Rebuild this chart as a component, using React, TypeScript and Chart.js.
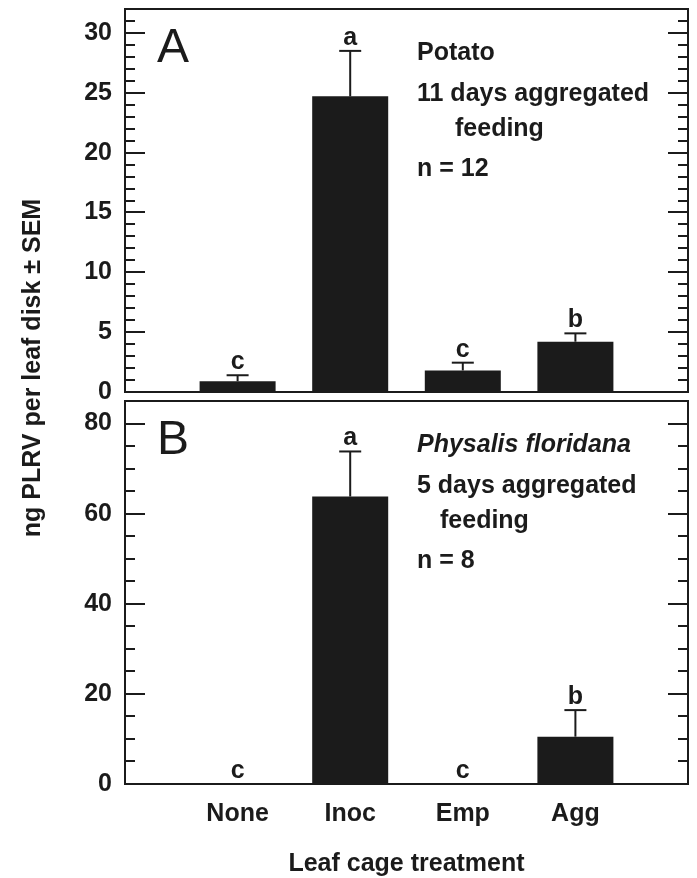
import React, { useEffect, useRef } from 'react';
import { Chart, registerables } from 'chart.js';

Chart.register(...registerables);

const CATEGORIES = ['None', 'Inoc', 'Emp', 'Agg'];

const VALUES_A = [0.9, 24.7, 1.8, 4.2];
const ERRORS_A = [0.5, 3.8, 0.65, 0.7];
const LETTERS_A = ['c', 'a', 'c', 'b'];
const TICKS_A = [0, 5, 10, 15, 20, 25, 30];
const Y_MAX_A = 32;
const MINOR_STEP_A = 1;
const NOTES_A = ['Potato', '11 days aggregated', 'feeding', 'n = 12'];

const VALUES_B = [0, 63.8, 0, 10.5];
const ERRORS_B = [0, 10, 0, 5.9];
const LETTERS_B = ['c', 'a', 'c', 'b'];
const TICKS_B = [0, 20, 40, 60, 80];
const Y_MAX_B = 85;
const MINOR_STEP_B = 5;
const NOTES_B = ['Physalis floridana', '5 days aggregated', 'feeding', 'n = 8'];

const Y_TITLE = 'ng PLRV per leaf disk \u00B1 SEM';
const X_TITLE = 'Leaf cage treatment';

const W = 697;
const H = 878;
const INK = '#1b1b1b';
const FONT = '"Liberation Sans", Arial, Helvetica, sans-serif';
const WEIGHT = 'bold';
const SIZE = 25;

type PanelCfg = {
  key: string;
  panelLetter: string;
  values: number[];
  errors: number[];
  letters: string[];
  ticks: number[];
  yMax: number;
  minor: number;
  notes: string[];
  italicFirst: boolean;
  feedingIndent: number;
  top: number;
  bottom: number;
  showX: boolean;
  drawYTitle: boolean;
};

function makePlugin(cfg: PanelCfg) {
  return {
    id: 'panelDeco' + cfg.key,
    afterDatasetsDraw(chart: any) {
      const ctx = chart.ctx as CanvasRenderingContext2D;
      const { left, right, top, bottom } = chart.chartArea;
      const xs = chart.scales.x;
      const ys = chart.scales.y;
      ctx.save();
      ctx.strokeStyle = INK;
      ctx.fillStyle = INK;
      const line = (x1: number, y1: number, x2: number, y2: number) => {
        ctx.beginPath();
        ctx.moveTo(x1, y1);
        ctx.lineTo(x2, y2);
        ctx.stroke();
      };
      // frame
      ctx.lineWidth = 2;
      ctx.strokeRect(left, top, right - left, bottom - top);
      // inward ticks (major + minor) on both sides
      for (let v = 0; v <= ys.max + 1e-9; v += cfg.minor) {
        const py = Math.round(ys.getPixelForValue(v));
        const major = cfg.ticks.some((t) => Math.abs(t - v) < 1e-9);
        const len = major ? 20 : 10;
        line(left, py, left + len, py);
        line(right, py, right - len, py);
      }
      // error bars + letters
      ctx.font = `${WEIGHT} ${SIZE}px ${FONT}`;
      ctx.textAlign = 'center';
      ctx.textBaseline = 'alphabetic';
      cfg.values.forEach((v, i) => {
        const cx = xs.getPixelForValue(i + 1);
        const yv = ys.getPixelForValue(v);
        const yTop = ys.getPixelForValue(v + cfg.errors[i]);
        if (cfg.errors[i] > 0) {
          line(cx, yv, cx, yTop);
          line(cx - 11, yTop, cx + 11, yTop);
        }
        ctx.fillText(cfg.letters[i], cx, yTop - 6);
      });
      // panel letter
      ctx.textAlign = 'left';
      ctx.font = `48px ${FONT}`;
      ctx.fillText(cfg.panelLetter, left + 32, top + 53);
      // notes
      const nx = left + 292;
      const baselines = [51, 92, 127, 167];
      cfg.notes.forEach((t, i) => {
        const italic = cfg.italicFirst && i === 0;
        ctx.font = `${italic ? 'italic ' : ''}${WEIGHT} ${SIZE}px ${FONT}`;
        const x = i === 2 ? nx + cfg.feedingIndent : nx;
        ctx.fillText(t, x, top + baselines[i]);
      });
      // shared y-axis title
      if (cfg.drawYTitle) {
        ctx.save();
        ctx.translate(33, 368);
        ctx.rotate(-Math.PI / 2);
        ctx.textAlign = 'center';
        ctx.textBaseline = 'middle';
        ctx.font = `${WEIGHT} ${SIZE}px ${FONT}`;
        ctx.fillText(Y_TITLE, 0, 0);
        ctx.restore();
      }
      ctx.restore();
    },
  };
}

function buildChart(canvas: HTMLCanvasElement, cfg: PanelCfg) {
  return new Chart(canvas, {
    type: 'bar',
    data: {
      datasets: [
        {
          data: cfg.values.map((v, i) => ({ x: i + 1, y: v })),
          backgroundColor: INK,
          borderWidth: 0,
          barPercentage: 0.675,
          categoryPercentage: 1,
        },
      ],
    },
    options: {
      animation: false,
      responsive: false,
      events: [],
      layout: {
        padding: { left: 0, right: W - 688, top: cfg.top, bottom: 0 },
      },
      plugins: {
        legend: { display: false },
        tooltip: { enabled: false },
        title: { display: false },
      },
      scales: {
        x: {
          type: 'linear',
          min: 0,
          max: 5,
          offset: false,
          grid: { display: false, drawTicks: false },
          border: { display: false },
          afterBuildTicks: (scale: any) => {
            scale.ticks = CATEGORIES.map((_, i) => ({ value: i + 1 }));
          },
          afterFit: (scale: any) => {
            scale.height = H - cfg.bottom;
            scale.paddingLeft = 0;
            scale.paddingRight = 0;
          },
          ticks: {
            display: cfg.showX,
            autoSkip: false,
            maxRotation: 0,
            padding: 15,
            color: INK,
            font: { family: FONT, size: SIZE, weight: WEIGHT },
            callback: (value: any) => CATEGORIES[Number(value) - 1] ?? '',
          },
          title: {
            display: cfg.showX,
            text: X_TITLE,
            color: INK,
            font: { family: FONT, size: SIZE, weight: WEIGHT, lineHeight: 1 },
            padding: { top: 0, bottom: 1 },
          },
        },
        y: {
          type: 'linear',
          min: 0,
          max: cfg.yMax,
          grid: { display: false, drawTicks: false },
          border: { display: false },
          afterBuildTicks: (scale: any) => {
            scale.ticks = cfg.ticks.map((v) => ({ value: v }));
          },
          afterFit: (scale: any) => {
            scale.width = 125;
            scale.paddingTop = 0;
            scale.paddingBottom = 0;
          },
          ticks: {
            padding: 13,
            color: INK,
            font: { family: FONT, size: SIZE, weight: WEIGHT },
          },
        },
      },
    } as any,
    plugins: [makePlugin(cfg)],
  });
}

const PANEL_A: PanelCfg = {
  key: 'A',
  panelLetter: 'A',
  values: VALUES_A,
  errors: ERRORS_A,
  letters: LETTERS_A,
  ticks: TICKS_A,
  yMax: Y_MAX_A,
  minor: MINOR_STEP_A,
  notes: NOTES_A,
  italicFirst: false,
  feedingIndent: 38,
  top: 9,
  bottom: 392,
  showX: false,
  drawYTitle: false,
};

const PANEL_B: PanelCfg = {
  key: 'B',
  panelLetter: 'B',
  values: VALUES_B,
  errors: ERRORS_B,
  letters: LETTERS_B,
  ticks: TICKS_B,
  yMax: Y_MAX_B,
  minor: MINOR_STEP_B,
  notes: NOTES_B,
  italicFirst: true,
  feedingIndent: 23,
  top: 401,
  bottom: 784,
  showX: true,
  drawYTitle: true,
};

export default function App() {
  const refA = useRef<HTMLCanvasElement>(null);
  const refB = useRef<HTMLCanvasElement>(null);

  useEffect(() => {
    const a = buildChart(refA.current!, PANEL_A);
    const b = buildChart(refB.current!, PANEL_B);
    return () => {
      a.destroy();
      b.destroy();
    };
  }, []);

  const style: React.CSSProperties = {
    position: 'absolute',
    left: 0,
    top: 0,
    width: W,
    height: H,
  };

  return (
    <div style={{ position: 'absolute', left: 0, top: 0, width: W, height: H, background: '#fff' }}>
      <canvas ref={refA} width={W} height={H} style={style} />
      <canvas ref={refB} width={W} height={H} style={style} />
    </div>
  );
}
